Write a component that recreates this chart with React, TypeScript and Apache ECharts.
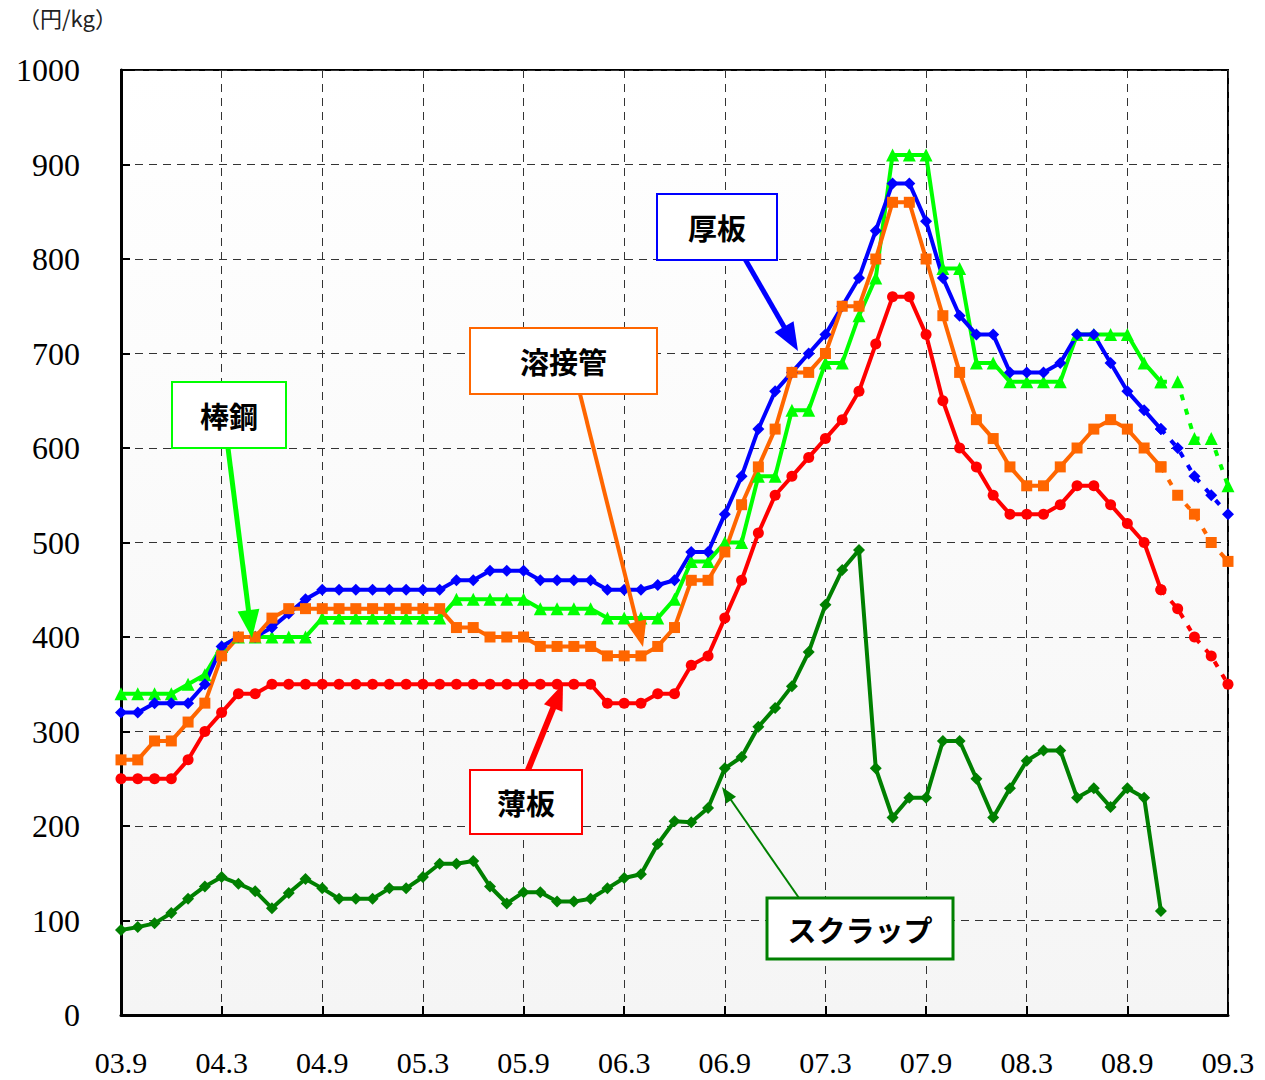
import React, { useEffect, useRef } from "react";
import * as echarts from "echarts";

const months = [
  "03.9","03.10","03.11","03.12","04.1","04.2","04.3","04.4","04.5","04.6","04.7","04.8",
  "04.9","04.10","04.11","04.12","05.1","05.2","05.3","05.4","05.5","05.6","05.7","05.8",
  "05.9","05.10","05.11","05.12","06.1","06.2","06.3","06.4","06.5","06.6","06.7","06.8",
  "06.9","06.10","06.11","06.12","07.1","07.2","07.3","07.4","07.5","07.6","07.7","07.8",
  "07.9","07.10","07.11","07.12","08.1","08.2","08.3","08.4","08.5","08.6","08.7","08.8",
  "08.9","08.10","08.11","08.12","09.1","09.2","09.3",
];

// 厚板
const atsuita = [
  320,320,330,330,330,350,390,400,400,410,425,440,
  450,450,450,450,450,450,450,450,460,460,470,470,
  470,460,460,460,460,450,450,450,455,460,490,490,
  530,570,620,660,680,700,720,750,780,830,880,880,
  840,780,740,720,720,680,680,680,690,720,720,690,
  660,640,620,600,570,550,530,
];
// 棒鋼
const bokou = [
  340,340,340,340,350,360,390,400,400,400,400,400,
  420,420,420,420,420,420,420,420,440,440,440,440,
  440,430,430,430,430,420,420,420,420,440,480,480,
  500,500,570,570,640,640,690,690,740,780,910,910,
  910,790,790,690,690,670,670,670,670,720,720,720,
  720,690,670,670,610,610,560,
];
// 溶接管
const yosetsukan = [
  270,270,290,290,310,330,380,400,400,420,430,430,
  430,430,430,430,430,430,430,430,410,410,400,400,
  400,390,390,390,390,380,380,380,390,410,460,460,
  490,540,580,620,680,680,700,750,750,800,860,860,
  800,740,680,630,610,580,560,560,580,600,620,630,
  620,600,580,550,530,500,480,
];
// 薄板
const usuita = [
  250,250,250,250,270,300,320,340,340,350,350,350,
  350,350,350,350,350,350,350,350,350,350,350,350,
  350,350,350,350,350,330,330,330,340,340,370,380,
  420,460,510,550,570,590,610,630,660,710,760,760,
  720,650,600,580,550,530,530,530,540,560,560,540,
  520,500,450,430,400,380,350,
];
// スクラップ
const scrap = [
  90,93,97,108,123,136,146,139,131,113,129,144,
  134,123,123,123,134,134,146,160,160,163,136,118,
  130,130,120,120,123,134,145,149,181,205,204,219,
  261,273,305,325,348,384,434,471,492,261,209,230,
  230,290,290,250,209,240,269,280,280,230,240,220,
  240,230,110,null,null,null,null,
];

const yTicks = [0, 100, 200, 300, 400, 500, 600, 700, 800, 900, 1000];
const LAST_ACTUAL = 62;

const solidPart = (arr: (number | null)[]) => arr.map((v, i) => (i <= LAST_ACTUAL ? v : null));
const dashPart = (arr: (number | null)[]) => arr.map((v, i) => (i >= LAST_ACTUAL ? v : null));

function arrow(x1: number, y1: number, x2: number, y2: number, color: string, w: number, len: number, half: number) {
  const dx = x2 - x1, dy = y2 - y1;
  const d = Math.sqrt(dx * dx + dy * dy);
  const ux = dx / d, uy = dy / d;
  const nx = -uy, ny = ux;
  const bx = x2 - ux * len, by = y2 - uy * len;
  return [
    { type: "line", z: 100, shape: { x1, y1, x2: bx + ux * 2, y2: by + uy * 2 }, style: { stroke: color, lineWidth: w } },
    {
      type: "polygon", z: 100,
      shape: { points: [[x2, y2], [bx + nx * half, by + ny * half], [bx - nx * half, by - ny * half]] },
      style: { fill: color },
    },
  ];
}

function box(x: number, y: number, w: number, h: number, color: string, text: string, lw: number) {
  return {
    type: "rect", z: 101,
    shape: { x, y, width: w, height: h },
    style: { fill: "#ffffff", stroke: color, lineWidth: lw },
    textContent: {
      style: { text, font: 'bold 29px "Noto Sans CJK JP"', fill: "#000" },
      z: 102,
    },
    textConfig: { position: "inside" },
  };
}

export default function App() {
  const ref = useRef<HTMLDivElement>(null);
  useEffect(() => {
    if (!ref.current) return;
    const chart = echarts.init(ref.current, undefined, { renderer: "svg" });
    const lineSeries = (name: string, data: (number | null)[], color: string, symbol: string, size: number, dashed: boolean) => ({
      name,
      type: "line",
      data: dashed ? dashPart(data) : solidPart(data),
      symbol,
      symbolSize: size,
      showSymbol: true,
      showAllSymbol: true,
      connectNulls: false,
      lineStyle: { color, width: 4, type: dashed ? [6, 9] : "solid" },
      itemStyle: { color },
      emphasis: { disabled: true },
    });
    const series = [
      lineSeries("棒鋼", bokou, "#00ff00", "triangle", 13, false),
      lineSeries("棒鋼", bokou, "#00ff00", "triangle", 13, true),
      lineSeries("厚板", atsuita, "#0000ff", "diamond", 12, false),
      lineSeries("厚板", atsuita, "#0000ff", "diamond", 12, true),
      lineSeries("溶接管", yosetsukan, "#ff6600", "rect", 11, false),
      lineSeries("溶接管", yosetsukan, "#ff6600", "rect", 11, true),
      lineSeries("薄板", usuita, "#ff0000", "circle", 11, false),
      lineSeries("薄板", usuita, "#ff0000", "circle", 11, true),
      lineSeries("スクラップ", scrap, "#008000", "diamond", 12, false),
    ];
    const graphic: any[] = [
      {
        type: "text", left: 18, top: 6,
        style: { text: "（円/kg）", font: '22px "Noto Sans CJK JP", "Liberation Serif"', fill: "#222" },
      },
      ...arrow(228, 448, 252, 638, "#00ff00", 5, 28, 11),
      ...arrow(745, 259, 798, 351, "#0000ff", 5, 28, 11),
      ...arrow(580, 394, 643, 647, "#ff6600", 4, 26, 10),
      ...arrow(528, 770, 563, 684, "#ff0000", 6, 26, 10),
      ...arrow(799, 898, 722, 787, "#008000", 2, 16, 6),
      box(657, 194, 120, 66, "#0000ff", "厚板", 2),
      box(470, 328, 187, 66, "#ff6600", "溶接管", 2),
      box(172, 382, 114, 66, "#00ff00", "棒鋼", 2),
      box(470, 770, 112, 64, "#ff0000", "薄板", 2),
      box(767, 898, 186, 61, "#008000", "スクラップ", 3),
    ];
    chart.setOption({
      animation: false,
      backgroundColor: "#ffffff",
      grid: {
        left: 121, right: 37, top: 70, bottom: 65,
        show: true, borderColor: "#000", borderWidth: 2,
        backgroundColor: new echarts.graphic.LinearGradient(0, 0, 0, 1, [
          { offset: 0, color: "#ffffff" },
          { offset: 1, color: "#f5f5f5" },
        ]),
      },
      xAxis: {
        type: "category",
        data: months,
        boundaryGap: false,
        axisLine: { lineStyle: { color: "#000", width: 3 } },
        axisTick: { inside: true, length: 9, interval: 5, lineStyle: { color: "#000", width: 2 } },
        axisLabel: {
          interval: 5, margin: 32, fontSize: 30, color: "#000",
          fontFamily: '"Liberation Serif", "DejaVu Serif", serif',
        },
        splitLine: { show: true, interval: 5, lineStyle: { color: "#333", width: 1, type: [8, 6] } },
      },
      yAxis: {
        type: "value",
        min: yTicks[0],
        max: yTicks[yTicks.length - 1],
        interval: 100,
        axisLine: { show: true, lineStyle: { color: "#000", width: 3 } },
        axisTick: { show: true, inside: true, length: 9, lineStyle: { color: "#000", width: 2 } },
        axisLabel: {
          margin: 41, fontSize: 32, color: "#000",
          fontFamily: '"Liberation Serif", "DejaVu Serif", serif',
          formatter: (v: number) => String(v),
        },
        splitLine: { show: true, lineStyle: { color: "#333", width: 1, type: [8, 6] } },
      },
      series,
      graphic,
    });
    return () => chart.dispose();
  }, []);
  return (
    <div
      ref={ref}
      style={{ position: "absolute", left: 0, top: 0, width: 1265, height: 1080 }}
    />
  );
}
